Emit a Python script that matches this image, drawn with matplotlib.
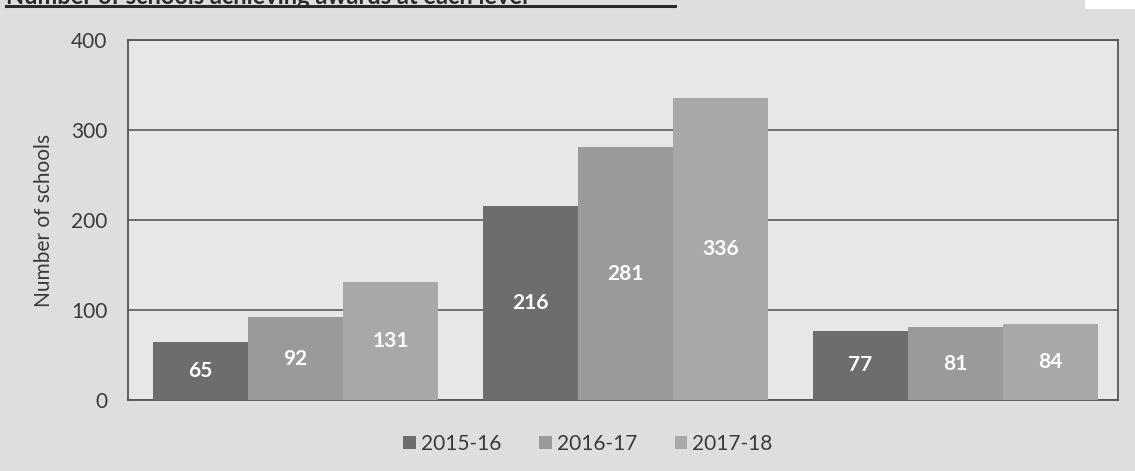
import matplotlib.pyplot as plt
import numpy as np
from matplotlib.lines import Line2D
from matplotlib.patches import Rectangle

plt.rcParams['font.family'] = ['Lato', 'DejaVu Sans']

# data
levels = ['Level 1', 'Level 2', 'Level 3']
years = ['2015-16', '2016-17', '2017-18']
y2015 = [65, 216, 77]
y2016 = [92, 281, 81]
y2017 = [131, 336, 84]
colours = ['#6d6d6d', '#9a9a9a', '#a8a8a8']

fig = plt.figure(figsize=(11.35, 4.71), dpi=100, facecolor='#dedede')
ax = fig.add_axes([128/1135, 1-400/471, 990/1135, 360/471])
ax.set_facecolor('#e7e7e7')

# white corner and underlined heading running off the top edge
fig.add_artist(Rectangle((1085/1135, 1-9/471), 50/1135, 9/471,
                         transform=fig.transFigure, color='white', lw=0))
fig.text(6/1135, 1-4/471, 'Number of schools achieving awards at each level',
         fontsize=17, fontweight='bold', color='#2a2a2a', va='baseline')
fig.add_artist(Line2D([6/1135, 675/1135], [1-6/471, 1-6/471],
                      transform=fig.transFigure, color='#2a2a2a', lw=2.2))

x = np.arange(len(levels))
w = 0.288
series = [y2015, y2016, y2017]
for i, vals in enumerate(series):
    bars = ax.bar(x + (i-1)*w + 0.008, vals, w, color=colours[i], label=years[i], zorder=3)
    ax.bar_label(bars, label_type='center', color='white', fontsize=15,
                 fontweight='bold')

ax.set_xlim(-0.5, 2.5)
ax.set_ylim(0, 400)
ax.set_yticks([0, 100, 200, 300, 400])
ax.set_xticks([])
ax.tick_params(axis='y', length=0, pad=15, labelsize=15, labelcolor='#3a3a3a')
ax.yaxis.grid(True, color='#5a5a5a', lw=1.2, zorder=1)
for s in ax.spines.values():
    s.set_color('#555555')
    s.set_linewidth(1.3)
ax.set_ylabel('Number of schools', fontsize=15, color='#3a3a3a', labelpad=12)

fig.legend(loc='center', bbox_to_anchor=(588/1135, 1-444/471), ncol=3,
           frameon=False, fontsize=15, handlelength=0.6, handleheight=0.6,
           handletextpad=0.25, columnspacing=1.8, labelcolor='#3a3a3a')

fig.savefig('out.png', dpi=100, facecolor=fig.get_facecolor())
